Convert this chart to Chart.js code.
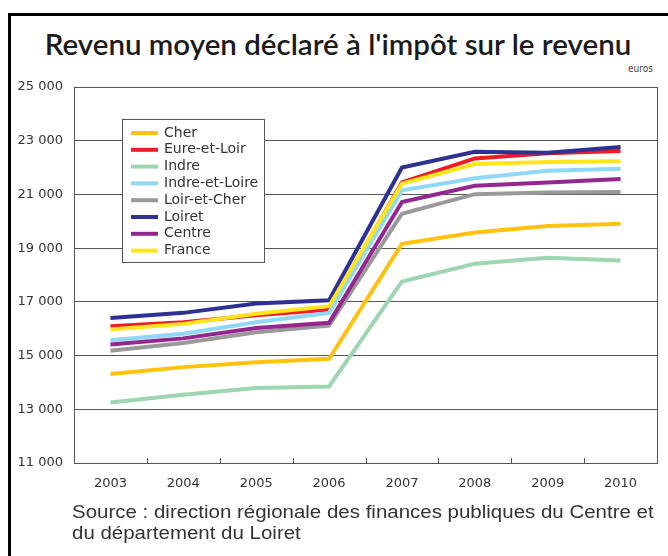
<!DOCTYPE html>
<html>
<head>
<meta charset="utf-8">
<script src="https://cdn.jsdelivr.net/npm/chart.js@4"></script>
<style>
  body { margin: 0; background: #fff; }
  #wrap { position: relative; width: 668px; height: 556px; overflow: hidden; }
  #cadre { position: absolute; left: 8px; top: 13px; width: 700px; height: 600px;
           border-left: 3px solid #000; border-top: 3px solid #000; }
  #titre { position: absolute; left: 0; width: 676px; top: 26px; text-align: center;
           font-family: Lato, sans-serif; font-weight: 600; font-size: 29.5px; color: #1a1a1a; }
  #euros { position: absolute; left: 628px; top: 63px; font-family: "DejaVu Sans Condensed", sans-serif;
           font-size: 10px; color: #444; }
  #source { position: absolute; left: 72px; top: 502px; font-family: "Liberation Sans", Arial, sans-serif;
            font-size: 17.5px; line-height: 21px; color: #333; white-space: nowrap;
            transform: scaleX(1.17); transform-origin: left top; }
  canvas { position: absolute; left: 0; top: 0; }
</style>
</head>
<body>
<div id="wrap">
  <div id="cadre"></div>
  <div id="titre">Revenu moyen déclaré à l'impôt sur le revenu</div>
  <div id="euros">euros</div>
  <canvas id="myChart" width="668" height="556"></canvas>
  <div id="source">Source : direction régionale des finances publiques du Centre et<br>du département du Loiret</div>
</div>
<script>
// donnees (euros)
var years = ['2003', '2004', '2005', '2006', '2007', '2008', '2009', '2010'];
var cher = [14310, 14570, 14750, 14880, 19160, 19580, 19820, 19910];
var eureEtLoir = [16090, 16240, 16500, 16710, 21450, 22340, 22530, 22620];
var indre = [13250, 13540, 13790, 13850, 17760, 18420, 18640, 18540];
var indreEtLoire = [15570, 15810, 16240, 16590, 21150, 21600, 21880, 21960];
var loirEtCher = [15180, 15470, 15870, 16120, 20280, 21010, 21070, 21090];
var loiret = [16400, 16590, 16940, 17060, 22000, 22590, 22550, 22770];
var centre = [15410, 15640, 16030, 16220, 20720, 21320, 21440, 21570];
var france = [15970, 16180, 16560, 16840, 21400, 22130, 22210, 22240];

var series = [
  { label: 'Cher', data: cher, color: '#ffc20e' },
  { label: 'Eure-et-Loir', data: eureEtLoir, color: '#ee1c25' },
  { label: 'Indre', data: indre, color: '#9dd6b1' },
  { label: 'Indre-et-Loire', data: indreEtLoire, color: '#8fd8f8' },
  { label: 'Loir-et-Cher', data: loirEtCher, color: '#999999' },
  { label: 'Loiret', data: loiret, color: '#2e3192' },
  { label: 'Centre', data: centre, color: '#93278f' },
  { label: 'France', data: france, color: '#ffe51a' }
];

var fontAxe = '"DejaVu Sans", Verdana, sans-serif';

// cadre du graphe + petites graduations + legende dans le graphe
var decor = {
  id: 'decor',
  beforeDatasetsDraw: function (chart) {
    var ctx = chart.ctx, a = chart.chartArea, x = chart.scales.x;
    ctx.save();
    ctx.strokeStyle = '#555';
    ctx.lineWidth = 1;
    ctx.strokeRect(Math.round(a.left) + 0.5, Math.round(a.top) + 0.5,
      Math.round(a.right - a.left), Math.round(a.bottom - a.top));
    ctx.beginPath();
    for (var i = 1; i < years.length; i++) {
      var px = Math.round((x.getPixelForValue(i - 1) + x.getPixelForValue(i)) / 2) + 0.5;
      ctx.moveTo(px, a.bottom);
      ctx.lineTo(px, a.bottom - 5);
    }
    ctx.stroke();
    ctx.restore();
  },
  afterDraw: function (chart) {
    var ctx = chart.ctx, a = chart.chartArea;
    var bx = a.left + 48, by = a.top + 32, bw = 142, bh = 143;
    ctx.save();
    ctx.fillStyle = '#fff';
    ctx.fillRect(bx, by, bw, bh);
    ctx.strokeStyle = '#555';
    ctx.lineWidth = 1;
    ctx.strokeRect(bx + 0.5, by + 0.5, bw, bh);
    ctx.font = '14px ' + fontAxe;
    ctx.textBaseline = 'middle';
    chart.data.datasets.forEach(function (ds, i) {
      var y = by + 14 + i * 16.8;
      ctx.strokeStyle = ds.borderColor;
      ctx.lineWidth = 4;
      ctx.beginPath();
      ctx.moveTo(bx + 9, y);
      ctx.lineTo(bx + 36, y);
      ctx.stroke();
      ctx.fillStyle = '#333';
      ctx.fillText(ds.label, bx + 42, y);
    });
    ctx.restore();
  }
};

var ctx = document.getElementById('myChart').getContext('2d');
var myChart = new Chart(ctx, {
  type: 'line',
  data: {
    labels: years,
    datasets: series.map(function (s, i) {
      return {
        label: s.label,
        data: s.data,
        borderColor: s.color,
        backgroundColor: s.color,
        borderWidth: 4,
        pointRadius: 0,
        tension: 0,
        order: series.length - i
      };
    })
  },
  options: {
    responsive: false,
    animation: false,
    layout: { padding: { top: 87, right: 11, bottom: 63, left: 0 } },
    scales: {
      x: {
        offset: true,
        grid: { display: false },
        border: { display: false },
        ticks: { color: '#333', padding: 5, font: { family: fontAxe, size: 13 } },
        afterFit: function (s) { s.height = 30; }
      },
      y: {
        min: 11000,
        max: 25000,
        grid: { color: '#555', drawTicks: false },
        border: { display: false },
        ticks: {
          stepSize: 2000,
          padding: 11,
          color: '#333',
          font: { family: fontAxe, size: 13 },
          callback: function (v) { return String(v).replace(/\B(?=(\d{3})+(?!\d))/g, ' '); }
        },
        afterFit: function (s) { s.width = 74; }
      }
    },
    plugins: {
      legend: { display: false },
      tooltip: { enabled: false }
    }
  },
  plugins: [decor]
});
</script>
</body>
</html>
